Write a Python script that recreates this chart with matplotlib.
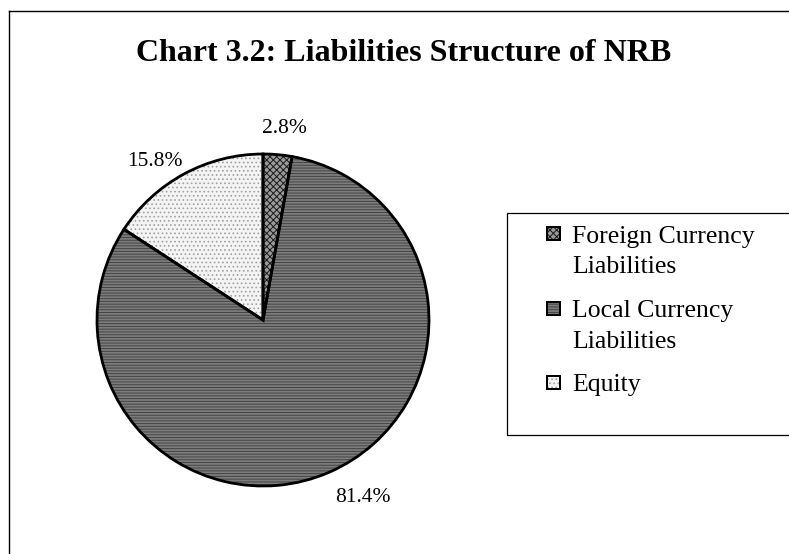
import matplotlib.pyplot as plt
import numpy as np
from matplotlib.patches import Rectangle
from matplotlib.lines import Line2D

title = "Chart 3.2: Liabilities Structure of NRB"
categories = ["Foreign Currency\nLiabilities", "Local Currency\nLiabilities", "Equity"]
shares = [2.8, 81.4, 15.8]
pct_labels = ["2.8%", "81.4%", "15.8%"]

face_colors = ["#9a9a9a", "#7c7c7c", "#f4f4f4"]
hatch_colors = ["#1a1a1a", "#444444", "#a0a0a0"]
hatches = ["xxxxx", "------", "...."]

plt.rcParams['font.family'] = ['Liberation Serif', 'DejaVu Serif']
plt.rcParams['hatch.linewidth'] = 0.7

W, H = 789, 554
fig = plt.figure(figsize=(W / 100, H / 100), dpi=100)


def fx(x):
    return x / W


def fy(y):
    return 1 - y / H


# pie placed by its centre and radius in pixels
cx, cy, r = 263, 320, 166
ax = fig.add_axes([fx(cx - r), fy(cy + r), 2 * r / W, 2 * r / H])

wedges, _ = ax.pie(shares, startangle=90, counterclock=False, colors=face_colors)
for w, h, hc in zip(wedges, hatches, hatch_colors):
    w.set_hatch(h)
    w.set_edgecolor(hc)
    w.set_linewidth(0)
# black outlines on top
ax.pie(shares, startangle=90, counterclock=False, colors=["none"] * len(shares),
       wedgeprops=dict(edgecolor="black", linewidth=2))
ax.set_xlim(-1, 1)
ax.set_ylim(-1, 1)
ax.set_aspect('equal')

for w, lab in zip(wedges, pct_labels):
    ang = np.deg2rad((w.theta1 + w.theta2) / 2)
    c, s = np.cos(ang), np.sin(ang)
    ha = 'center' if abs(c) < 0.3 else ('left' if c > 0 else 'right')
    va = 'bottom' if s > 0 else 'top'
    dist = 1.1 if abs(c) < 0.3 or s < 0 else 1.02
    ax.text(dist * c + 0.03 * (abs(c) < 0.3), dist * s, lab, ha=ha, va=va,
            fontsize=15.5, clip_on=False)

fig.text(fx(404), fy(61), title, ha='center', va='baseline',
         fontsize=23, fontweight='bold')

# chart border (right and bottom edges are cut off)
fig.add_artist(Line2D([fx(8.5), fx(8.5)], [fy(10.5), 0], color='black', lw=1.0))
fig.add_artist(Line2D([fx(8.5), 1], [fy(10.5), fy(10.5)], color='black', lw=1.0))

# legend
fig.add_artist(Rectangle((fx(507), fy(435)), fx(820) - fx(507), fy(213) - fy(435),
                         transform=fig.transFigure, fill=False, edgecolor='black', lw=0.9))
for i, lab in enumerate(categories):
    top = 227 + 74.5 * i
    box = ((fx(547), fy(top + 13)), 13 / W, 13 / H)
    fig.add_artist(Rectangle(*box, transform=fig.transFigure,
                             facecolor=face_colors[i], edgecolor='black', lw=1.2))
    fig.add_artist(Rectangle(*box, transform=fig.transFigure, facecolor='none',
                             edgecolor=hatch_colors[i], lw=0, hatch=hatches[i]))
    fig.add_artist(Rectangle(*box, transform=fig.transFigure,
                             facecolor='none', edgecolor='black', lw=1.4))
    fig.text(fx(572), fy(top - 1.5), lab, ha='left', va='top', fontsize=18.5,
             linespacing=1.5)

fig.savefig("out.png", dpi=100)
